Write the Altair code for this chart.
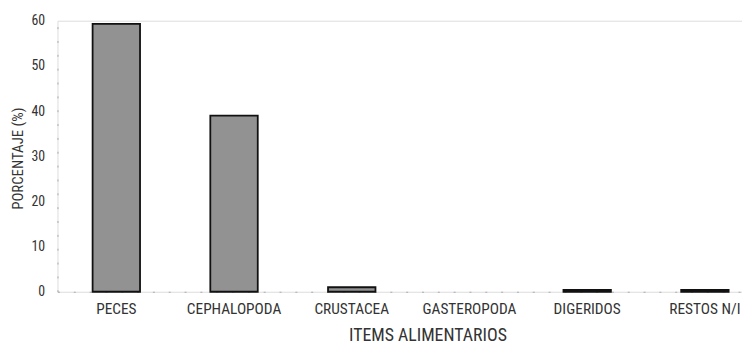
import altair as alt
import pandas as pd

categories = ["PECES", "CEPHALOPODA", "CRUSTACEA", "GASTEROPODA", "DIGERIDOS", "RESTOS N/I"]
values = [59.3, 39.0, 1.0, 0.0, 0.4, 0.4]

df = pd.DataFrame({"item": categories, "pct": values})

FONT = "Liberation Sans Narrow, Roboto Condensed, DejaVu Sans Condensed, Arial Narrow, sans-serif"

chart = alt.Chart(df).mark_bar(
    fill="#929292", stroke="#111111", strokeWidth=1.8
).encode(
    x=alt.X("item:N", sort=categories,
            scale=alt.Scale(range=[0, 714], paddingInner=0.597, paddingOuter=0.2985),
            axis=alt.Axis(title="ITEMS ALIMENTARIOS", labelAngle=0, ticks=False, tickSize=0,
                          labelPadding=22, labelBaseline="alphabetic", labelFontSize=15.5,
                          labelFont=FONT, labelColor="#333333",
                          titleFont=FONT, titleFontSize=18, titleFontWeight="normal",
                          titleColor="#333333", titleY=49, titleBaseline="alphabetic",
                          titleX=374, titleAnchor="middle",
                          domainColor="#aaaaaa", domainDash=[2, 14], domainWidth=1,
                          labelOverlap=False, labelBound=False)),
    y=alt.Y("pct:Q", scale=alt.Scale(domain=[0, 60], nice=False),
            axis=alt.Axis(title="PORCENTAJE (%)", values=[0, 10, 20, 30, 40, 50, 60],
                          grid=False, ticks=False, tickSize=0, labelPadding=13,
                          labelFont=FONT, labelFontSize=14, labelColor="#333333",
                          titleFont=FONT, titleFontSize=15, titleFontWeight="normal",
                          titleColor="#333333", titleAngle=270, titleX=-40, titleY=139,
                          titleAlign="center", titleBaseline="middle",
                          domainColor="#aaaaaa", domainDash=[2, 12], domainWidth=1)),
    strokeOpacity=alt.condition("datum.pct > 0", alt.value(1), alt.value(0)),
).properties(
    width=692, height=274,
    autosize=alt.AutoSizeParams(type="none"),
    padding={"left": 50, "top": 11, "right": 0, "bottom": 54},
).configure_view(stroke=None).configure(background="white")

chart.save("out.html", embed_options={"renderer": "svg", "actions": False})
